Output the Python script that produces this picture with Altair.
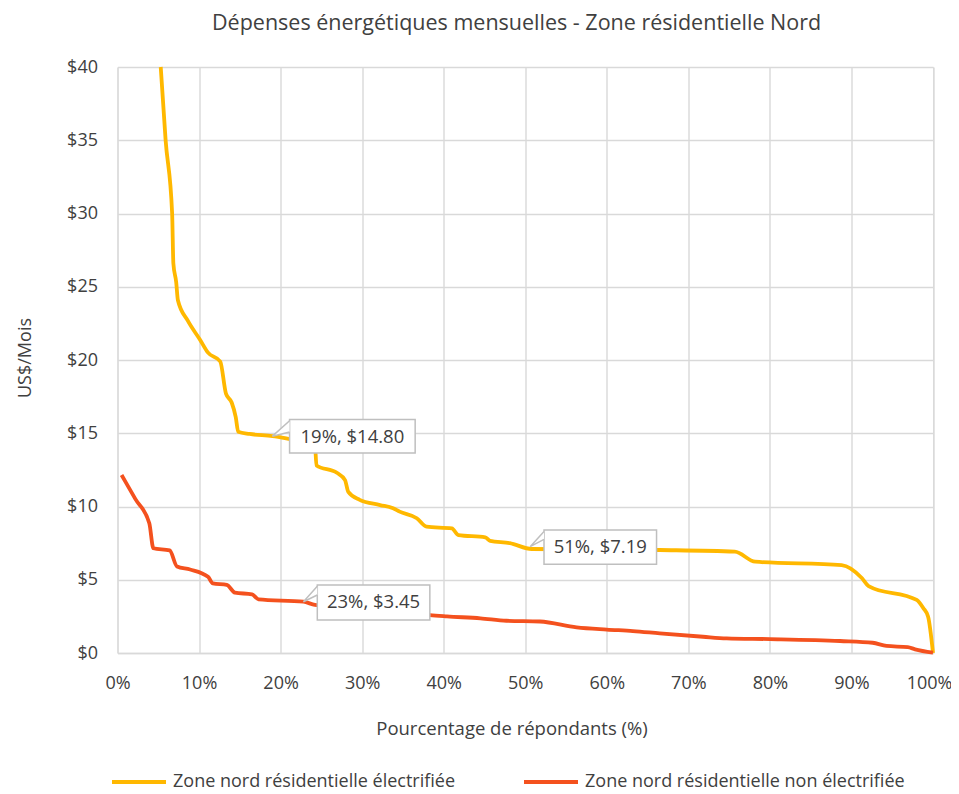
import altair as alt
import pandas as pd

# ---- data ----
series_names = ["Zone nord résidentielle électrifiée", "Zone nord résidentielle non électrifiée"]
series_colors = ["#FFB800", "#F4511E"]

elec_pct = [5.3, 5.9, 6.7, 6.85, 7.2, 7.4, 8.6, 10.1, 11.1, 12.6, 13.3, 14.0, 14.5, 14.8, 16.2, 19.0,
            21.2, 24.2, 24.4, 26.9, 27.9, 28.3, 29.7, 32.2, 33.8, 34.6, 36.7, 37.9, 41.0, 41.8, 45.1,
            45.7, 48.1, 50.8, 66.5, 75.7, 78.2, 88.8, 91.3, 92.1, 98.0, 98.8, 99.4, 100]
elec_usd = [40, 35, 30, 26.6, 25.3, 24.1, 22.7, 21.4, 20.5, 19.9, 17.7, 17.1, 16.1, 15.1, 14.95, 14.8,
            14.6, 14.3, 12.8, 12.3, 11.8, 11.0, 10.45, 10.1, 9.88, 9.65, 9.2, 8.62, 8.5, 8.05, 7.9,
            7.65, 7.5, 7.1, 7.03, 6.92, 6.23, 6.0, 5.1, 4.57, 3.62, 3.07, 2.48, 0.0]

non_pct = [0.5, 2.2, 3.9, 4.4, 6.4, 7.3, 8.9, 11.1, 11.7, 13.4, 14.4, 16.5, 17.3, 22.8, 24.2, 28, 33, 36,
           38.3, 40.4, 44.5, 47.7, 51.8, 56.3, 60.0, 63.2, 66.5, 71.8, 74.7, 80.0, 88.6, 92.6, 94.3,
           96.9, 97.8, 100]
non_usd = [12.15, 10.5, 8.85, 7.15, 7.0, 5.9, 5.7, 5.2, 4.75, 4.65, 4.12, 4.0, 3.66, 3.5, 3.28, 3.1, 2.9, 2.75,
           2.59, 2.5, 2.37, 2.2, 2.15, 1.75, 1.6, 1.5, 1.34, 1.11, 1.0, 0.95, 0.82, 0.7, 0.48,
           0.4, 0.25, 0.02]

x_ticks = [0, 10, 20, 30, 40, 50, 60, 70, 80, 90, 100]
y_ticks = [0, 5, 10, 15, 20, 25, 30, 35, 40]

# data labels (callouts)
label_text = ["19%, $14.80", "23%, $3.45", "51%, $7.19"]
label_x = [28.8, 31.4, 59.2]
label_y = [14.76, 3.45, 7.23]
box_x1 = [21.1, 24.5, 52.3]
box_x2 = [36.5, 38.3, 66.1]
box_y1 = [15.94, 4.64, 8.40]
box_y2 = [13.65, 2.25, 6.05]
tip_x = [19.0, 22.8, 50.6]
tip_y = [14.8, 3.5, 7.26]
base_y1 = [15.85, 4.55, 8.30]
base_y2 = [15.09, 3.96, 7.76]

FONT = "Open Sans"
TXT = "#404040"
GRID = "#d9d9d9"

rows = []
for p, v in zip(elec_pct, elec_usd):
    rows.append({"pct": p, "usd": v, "serie": series_names[0]})
for p, v in zip(non_pct, non_usd):
    rows.append({"pct": p, "usd": v, "serie": series_names[1]})
df = pd.DataFrame(rows)

boxes = pd.DataFrame({"t": label_text, "x": label_x, "y": label_y,
                      "x1": box_x1, "x2": box_x2, "y1": box_y1, "y2": box_y2})

prow = []
for i in range(len(label_text)):
    prow.append({"k": i, "o": 0, "x": box_x1[i], "y": base_y1[i]})
    prow.append({"k": i, "o": 1, "x": tip_x[i], "y": tip_y[i]})
    prow.append({"k": i, "o": 2, "x": box_x1[i], "y": base_y2[i]})
pointers = pd.DataFrame(prow)

xscale = alt.Scale(domain=[0, 100], nice=False)
yscale = alt.Scale(domain=[0, 40], nice=False)

x_axis = alt.Axis(values=x_ticks, labelExpr="datum.value + '%'", title="Pourcentage de répondants (%)",
                  grid=True, gridColor=GRID, gridWidth=1.4, ticks=False, domainColor=GRID, domainWidth=1.5,
                  labelFlush=False, labelPadding=21, labelFontSize=18, labelColor=TXT, labelFont=FONT,
                  labelOffset={"condition": {"test": "datum.value == 100", "value": -4}, "value": 0},
                  titleFont=FONT, titleFontSize=18.5, titleColor=TXT, titleFontWeight="normal",
                  titleX=394, titleY=75, titleAlign="center", titleBaseline="middle")
y_axis = alt.Axis(values=y_ticks, labelExpr="'$' + datum.value", title="US$/Mois",
                  grid=True, gridColor=GRID, gridWidth=1.4, ticks=False, domain=False,
                  labelFlush=False, labelPadding=20, labelFontSize=18, labelColor=TXT, labelFont=FONT,
                  titleFont=FONT, titleFontSize=18, titleColor=TXT, titleFontWeight="normal",
                  titleX=-92.5, titleY=290.5, titleAlign="center", titleBaseline="middle", titleAngle=270)

lines = alt.Chart(df).mark_line(strokeWidth=3.8, interpolate="monotone").encode(
    x=alt.X("pct:Q", scale=xscale, axis=x_axis),
    y=alt.Y("usd:Q", scale=yscale, axis=y_axis),
    color=alt.Color("serie:N", scale=alt.Scale(domain=series_names, range=series_colors),
                    legend=alt.Legend(title=None, orient="none", direction="horizontal",
                                      legendX=-7.5, legendY=686, symbolType="stroke",
                                      symbolSize=2916, symbolStrokeWidth=4, labelFont=FONT,
                                      labelFontSize=18, labelColor=TXT, labelLimit=600,
                                      labelOffset=5, columnPadding=60, padding=0)),
)

rects = alt.Chart(boxes).mark_rect(fill="white", stroke="#bfbfbf", strokeWidth=1.5).encode(
    x="x1:Q", x2="x2:Q", y="y1:Q", y2="y2:Q")

ptr = alt.Chart(pointers).mark_line(stroke="#bfbfbf", fill="white", strokeWidth=1.5).encode(
    x="x:Q", y="y:Q", detail="k:N", order="o:Q")

texts = alt.Chart(boxes).mark_text(font=FONT, fontSize=18.5, color=TXT, align="center", baseline="middle").encode(
    x="x:Q", y="y:Q", text="t:N")

chart = alt.layer(lines, rects, ptr, texts).properties(
    width=815.5, height=586,
    title=alt.TitleParams("Dépenses énergétiques mensuelles - Zone résidentielle Nord", font=FONT,
                          fontSize=21.5, color=TXT, fontWeight="normal", anchor="middle", offset=24, dx=-8.7),
    autosize=alt.AutoSizeParams(type="none"),
    padding={"left": 109.5, "top": 59, "right": 18, "bottom": 138},
).configure_view(stroke=None).configure(background="white")

chart.save("out.html", embed_options={"renderer": "svg", "actions": False})
